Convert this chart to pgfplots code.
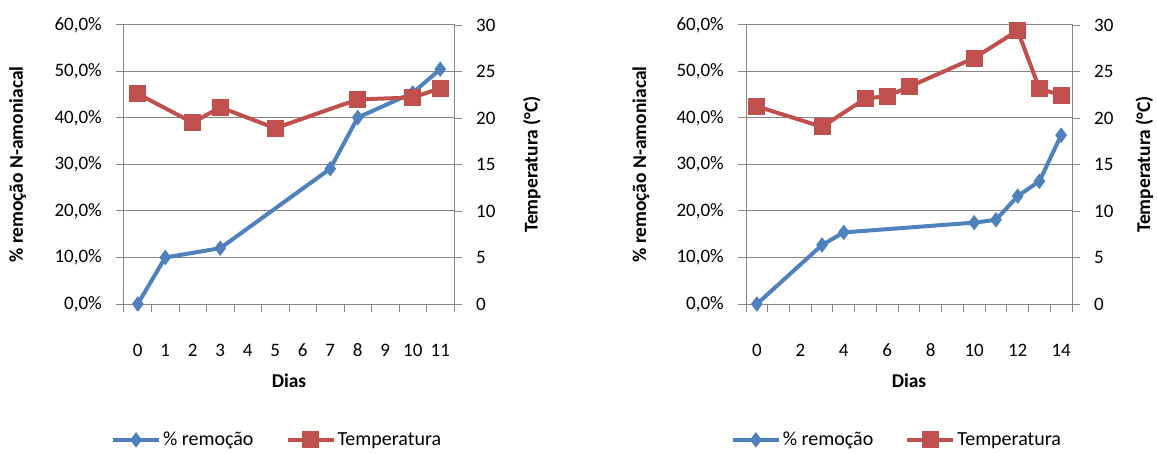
\documentclass[border=0pt]{standalone}
\usepackage{pgfplots}
\pgfplotsset{compat=1.18}
\usepackage{fontspec}
\setmainfont{Carlito}
\definecolor{xlblue}{HTML}{4F81BD}
\definecolor{xlred}{HTML}{C0504D}
\definecolor{xlgray}{HTML}{868686}
\newcommand{\tickfont}{\fontsize{19}{22}\selectfont}
\newcommand{\legfont}{\fontsize{20}{23}\selectfont}
\newcommand{\labfont}{\fontsize{19.5}{23}\selectfont\bfseries}
\pgfplotsset{
  common/.style={
    scale only axis, height=279pt, anchor=south west,
    /pgf/number format/assume math mode=true,
    tick label style={font=\tickfont, text=black},
    label style={font=\labfont},
    major tick length=0pt, minor tick length=8pt,
    tick align=outside,
    every tick/.style={xlgray, line width=1pt},
    axis line style={xlgray, line width=1pt},
    extra y tick labels={},
    extra y tick style={major tick length=8pt, grid=none},
    clip=false,
  },
  leftax/.style={common,
    ymin=0, ymax=60, ytick={0,10,...,60}, extra y ticks={0,10,...,60},
    ytick pos=left, xtick pos=bottom,
    ymajorgrids, grid style={xlgray, line width=1pt},
    yticklabel={\pgfmathprintnumber[fixed,precision=1,fixed zerofill,use comma]{\tick}\%},
    yticklabel style={anchor=east, inner sep=0pt, xshift=-22pt},
    xticklabel style={anchor=center, inner sep=0pt, yshift=-46pt},
    ylabel={\% remoção N-amoniacal},
    ylabel style={at={(axis description cs:-0.322,0.5)}, anchor=center},
    xlabel={Dias},
    xlabel style={at={(axis description cs:0.5,-0.276)}, anchor=center},
  },
  rightax/.style={common,
    axis x line=none, axis y line*=right,
    ymin=0, ymax=30, ytick={0,5,...,30}, extra y ticks={0,5,...,30},
    ytick pos=right,
    yticklabel style={anchor=west, inner sep=0pt, xshift=22pt},
    ylabel={Temperatura (°C)},
    legend columns=2,
    legend style={draw=none, fill=none, font=\legfont, inner sep=0pt,
      /tikz/every even column/.append style={column sep=30pt}},
    legend image code/.code={
      \draw[mark repeat=2,mark phase=2,#1] plot coordinates {(0pt,0pt) (23pt,0pt) (46pt,0pt)};},
  },
  blueline/.style={xlblue, line width=4pt, mark=diamond*, mark size=7pt,
    mark options={xlblue, fill=xlblue, line width=1pt}},
  redline/.style={xlred, line width=4pt, mark=square*, mark size=8pt,
    mark options={xlred, fill=xlred, line width=1pt}},
}
\begin{document}
\begin{tikzpicture}
\useasboundingbox (0pt,0pt) rectangle (1157pt,453pt);
% ---------- left panel ----------
\begin{axis}[leftax, at={(124pt,149pt)}, width=330pt,
  xmin=-0.5, xmax=11.5, xtick={0,...,11}, minor xtick={-0.5,0.5,...,11.5}]
\addplot[blueline] coordinates {(0,0) (1,10.0) (3,12.0) (7,29.1) (8,40.1) (10,45.4) (11,50.5)};
\end{axis}
\begin{axis}[rightax, at={(124pt,149pt)}, width=330pt,
  xmin=-0.5, xmax=11.5,
  ylabel style={at={(axis description cs:1.236,0.5)}, anchor=center},
  legend style={at={(axis description cs:0.464,-0.487)}, anchor=center}]
\addlegendimage{blueline}
\addlegendentry{\% remoção}
\addplot[redline] coordinates {(0,22.6) (2,19.5) (3,21.15) (5,18.9) (8,22.0) (10,22.2) (11,23.2)};
\addlegendentry{Temperatura}
\end{axis}
% ---------- right panel ----------
\begin{axis}[leftax, at={(746pt,149pt)}, width=326pt,
  xmin=-0.5, xmax=14.5, xtick={0,2,...,14}, minor xtick={-0.5,0.5,...,14.5}]
\addplot[blueline] coordinates {(0,0) (3,12.7) (4,15.4) (10,17.5) (11,18.1) (12,23.2) (13,26.4) (14,36.3)};
\end{axis}
\begin{axis}[rightax, at={(746pt,149pt)}, width=326pt,
  xmin=-0.5, xmax=14.5,
  ylabel style={at={(axis description cs:1.222,0.5)}, anchor=center},
  legend style={at={(axis description cs:0.463,-0.487)}, anchor=center}]
\addlegendimage{blueline}
\addlegendentry{\% remoção}
\addplot[redline] coordinates {(0,21.25) (3,19.05) (5,22.1) (6,22.35) (7,23.35) (10,26.45) (12,29.4) (13,23.15) (14,22.45)};
\addlegendentry{Temperatura}
\end{axis}
\end{tikzpicture}
\end{document}
